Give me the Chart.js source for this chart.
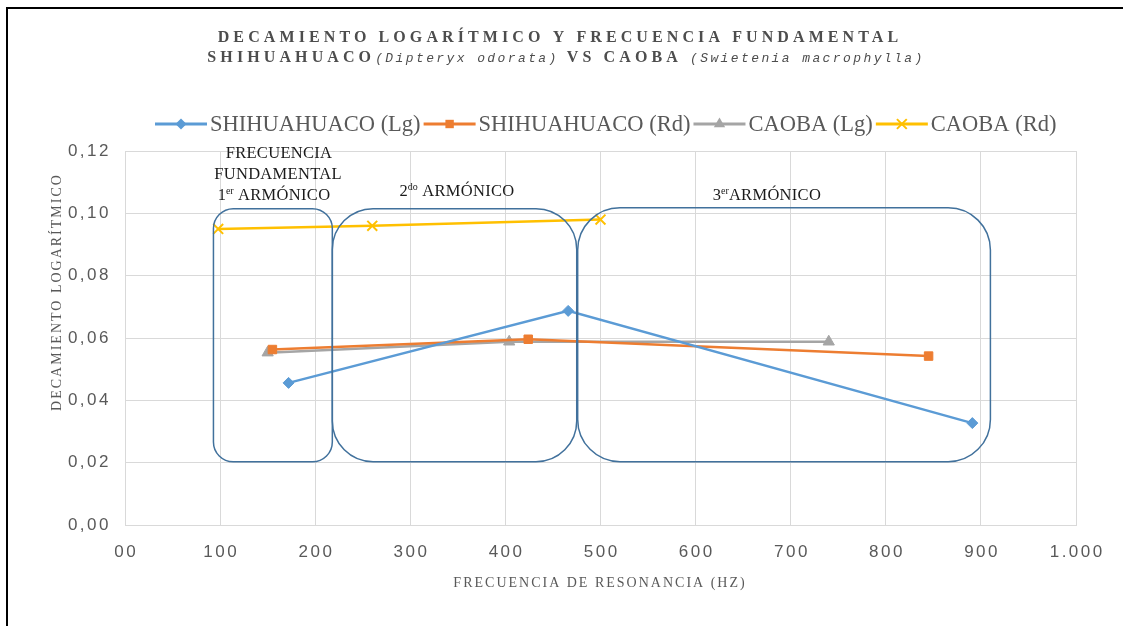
<!DOCTYPE html>
<html><head><meta charset="utf-8">
<script src="https://cdn.jsdelivr.net/npm/chart.js@4.4.1/dist/chart.umd.min.js"></script>
<style>
html,body{margin:0;padding:0;background:#fff;}
#wrap{position:absolute;left:0;top:0;width:1123px;height:626px;}
#frame{position:absolute;left:6px;top:7px;width:1130px;height:640px;border-left:2px solid #000;border-top:2px solid #000;pointer-events:none;}
</style></head>
<body>
<div id="wrap"><canvas id="c" width="1123" height="626"></canvas></div>
<div id="frame"></div>
<script>
// ---- data ----
const shihuahuacoLgX = [172, 466, 891];
const shihuahuacoLgY = [0.0456, 0.0687, 0.0327];
const shihuahuacoRdX = [155, 424, 845];
const shihuahuacoRdY = [0.0563, 0.0596, 0.0542];
const caobaLgX = [150, 404, 740];
const caobaLgY = [0.0553, 0.0588, 0.0588];
const caobaRdX = [98, 260, 500];
const caobaRdY = [0.0950, 0.0960, 0.0980];
const seriesNames = ['SHIHUAHUACO (Lg)', 'SHIHUAHUACO (Rd)', 'CAOBA (Lg)', 'CAOBA (Rd)'];
const xTickValues = [0,100,200,300,400,500,600,700,800,900,1000];
const xTickLabels = ['00','100','200','300','400','500','600','700','800','900','1.000'];
const yTickValues = [0,0.02,0.04,0.06,0.08,0.10,0.12];
const yTickLabels = ['0,00','0,02','0,04','0,06','0,08','0,10','0,12'];
// harmonic regions (data space)
const regionX0 = [93, 218, 476];
const regionX1 = [218, 475, 910];
const regionY0 = [0.0203, 0.0203, 0.0203];
const regionY1 = [0.1015, 0.1015, 0.1018];

const pts = (xs, ys) => xs.map((x, i) => ({x, y: ys[i]}));
const colors = ['#5b9bd5', '#ed7d31', '#a5a5a5', '#ffc000'];
const styles = ['rectRot', 'rect', 'triangle', 'crossRot'];
const radii = [5.5, 6, 6.5, 7];

const datasets = [
  [shihuahuacoLgX, shihuahuacoLgY],
  [shihuahuacoRdX, shihuahuacoRdY],
  [caobaLgX, caobaLgY],
  [caobaRdX, caobaRdY]
].map((d, i) => ({
  label: seriesNames[i],
  data: pts(d[0], d[1]),
  showLine: true,
  borderColor: colors[i],
  backgroundColor: colors[i],
  borderWidth: 2.5,
  pointStyle: styles[i],
  pointRadius: radii[i],
  pointBorderWidth: i === 3 ? 2 : 1,
  pointBorderColor: colors[i],
  pointBackgroundColor: colors[i],
  tension: 0
}));

function drawMarker(ctx, style, x, y, r, color) {
  ctx.save();
  ctx.fillStyle = color; ctx.strokeStyle = color; ctx.lineWidth = style === 'crossRot' ? 2 : 1;
  ctx.beginPath();
  if (style === 'rectRot') { ctx.moveTo(x, y - r); ctx.lineTo(x + r, y); ctx.lineTo(x, y + r); ctx.lineTo(x - r, y); ctx.closePath(); ctx.fill(); }
  else if (style === 'rect') { ctx.fillRect(x - r * 0.7, y - r * 0.7, r * 1.4, r * 1.4); }
  else if (style === 'triangle') { ctx.moveTo(x, y - r); ctx.lineTo(x + r * 0.87, y + r * 0.5); ctx.lineTo(x - r * 0.87, y + r * 0.5); ctx.closePath(); ctx.fill(); }
  else { const d = r * 0.7; ctx.moveTo(x - d, y - d); ctx.lineTo(x + d, y + d); ctx.moveTo(x + d, y - d); ctx.lineTo(x - d, y + d); ctx.stroke(); }
  ctx.restore();
}

function drawSegments(ctx, segs, cx, y) {
  let total = 0;
  segs.forEach(s => { ctx.font = s.font; ctx.letterSpacing = (s.ls || 0) + 'px'; s.w = ctx.measureText(s.t).width; total += s.w; });
  let x = cx - total / 2;
  segs.forEach(s => { ctx.font = s.font; ctx.letterSpacing = (s.ls || 0) + 'px'; ctx.fillText(s.t, x, y + (s.dy || 0)); x += s.w; });
  ctx.letterSpacing = '0px';
}

function roundRect(ctx, x0, y0, x1, y1, r) {
  ctx.beginPath();
  ctx.moveTo(x0 + r, y0); ctx.lineTo(x1 - r, y0); ctx.arcTo(x1, y0, x1, y0 + r, r);
  ctx.lineTo(x1, y1 - r); ctx.arcTo(x1, y1, x1 - r, y1, r);
  ctx.lineTo(x0 + r, y1); ctx.arcTo(x0, y1, x0, y1 - r, r);
  ctx.lineTo(x0, y0 + r); ctx.arcTo(x0, y0, x0 + r, y0, r);
  ctx.closePath();
}

const decor = {
  id: 'decor',
  afterDatasetsDraw(chart) {
    const ctx = chart.ctx, xs = chart.scales.x, ys = chart.scales.y;
    ctx.save();
    ctx.strokeStyle = '#41719c'; ctx.lineWidth = 1.5;
    regionX0.forEach((_, i) => {
      const a = xs.getPixelForValue(regionX0[i]), b = xs.getPixelForValue(regionX1[i]);
      const t = ys.getPixelForValue(regionY1[i]), btm = ys.getPixelForValue(regionY0[i]);
      const r = Math.min(b - a, btm - t) / 6;
      roundRect(ctx, a, t, b, btm, r); ctx.stroke();
    });
    ctx.restore();
  },
  afterDraw(chart) {
    const ctx = chart.ctx, xs = chart.scales.x, ys = chart.scales.y;
    ctx.save();
    ctx.textBaseline = 'middle';
    // tick labels
    ctx.fillStyle = '#595959';
    ctx.font = '17px "Liberation Sans"';
    ctx.letterSpacing = '2.5px';
    ctx.textAlign = 'right';
    yTickValues.forEach((v, i) => ctx.fillText(yTickLabels[i], 111, ys.getPixelForValue(v)));
    ctx.textAlign = 'center';
    xTickValues.forEach((v, i) => ctx.fillText(xTickLabels[i], xs.getPixelForValue(v) + 1.2, 552));
    ctx.letterSpacing = '0px';
    // axis titles
    ctx.font = '14px "Liberation Serif"';
    ctx.letterSpacing = '2px';
    ctx.fillText('FRECUENCIA DE RESONANCIA (HZ)', 600, 583);
    ctx.save(); ctx.translate(57, 292); ctx.rotate(-Math.PI / 2);
    ctx.fillText('DECAMIENTO LOGARÍTMICO', 0, 0); ctx.restore();
    ctx.letterSpacing = '0px';
    // title
    ctx.fillStyle = '#4d4d4d';
    ctx.textAlign = 'left';
    ctx.textBaseline = 'alphabetic';
    const tb = 'bold 16px "Liberation Serif"', ti = 'italic 13px "Liberation Mono"';
    drawSegments(ctx, [{t: 'DECAMIENTO LOGARÍTMICO Y FRECUENCIA FUNDAMENTAL', font: tb, ls: 4.1}], 560, 42);
    drawSegments(ctx, [
      {t: 'SHIHUAHUACO', font: tb, ls: 4.1},
      {t: '(Dipteryx odorata)', font: ti, ls: 2.4},
      {t: ' VS CAOBA ', font: tb, ls: 4.1},
      {t: '(Swietenia macrophylla)', font: ti, ls: 2.4}
    ], 566, 62);
    // region labels
    ctx.fillStyle = '#1a1a1a';
    const lf = '16.5px "Liberation Serif"', sf = '10px "Liberation Serif"';
    drawSegments(ctx, [{t: 'FRECUENCIA', font: lf, ls: 0.3}], 279, 158);
    drawSegments(ctx, [{t: 'FUNDAMENTAL', font: lf, ls: 0.3}], 278, 179);
    drawSegments(ctx, [{t: '1', font: lf}, {t: 'er', font: sf, dy: -6}, {t: ' ARMÓNICO', font: lf, ls: 0.3}], 274, 200);
    drawSegments(ctx, [{t: '2', font: lf}, {t: 'do', font: sf, dy: -6}, {t: ' ARMÓNICO', font: lf, ls: 0.3}], 457, 196);
    drawSegments(ctx, [{t: '3', font: lf}, {t: 'er', font: sf, dy: -6}, {t: 'ARMÓNICO', font: lf, ls: 0.3}], 767, 200);
    // legend
    ctx.font = '22.5px "Liberation Serif"';
    ctx.textBaseline = 'middle';
    let x = 155; const ly = 124;
    seriesNames.forEach((name, i) => {
      ctx.strokeStyle = colors[i]; ctx.lineWidth = 3;
      ctx.beginPath(); ctx.moveTo(x, ly); ctx.lineTo(x + 52, ly); ctx.stroke();
      drawMarker(ctx, styles[i], x + 26, ly, radii[i], colors[i]);
      ctx.fillStyle = '#595959';
      ctx.fillText(name, x + 55, ly + 1);
      x += 55 + ctx.measureText(name).width + 3;
    });
    ctx.restore();
  }
};

new Chart(document.getElementById('c'), {
  type: 'scatter',
  data: {datasets},
  options: {
    responsive: false,
    animation: false,
    layout: {padding: {top: 151, right: 47, left: 0, bottom: 0}},
    plugins: {legend: {display: false}, title: {display: false}, tooltip: {enabled: false}},
    scales: {
      x: {
        type: 'linear', min: 0, max: 1000,
        ticks: {display: false, stepSize: 100},
        grid: {color: '#d9d9d9', lineWidth: 1, drawTicks: false},
        border: {display: true, color: '#d9d9d9'},
        afterFit(s) { s.height = 101; }
      },
      y: {
        type: 'linear', min: 0, max: 0.12,
        ticks: {display: false, stepSize: 0.02},
        grid: {color: '#d9d9d9', lineWidth: 1, drawTicks: false},
        border: {display: true, color: '#d9d9d9'},
        afterFit(s) { s.width = 125; }
      }
    }
  },
  plugins: [decor]
});
</script>
</body></html>
